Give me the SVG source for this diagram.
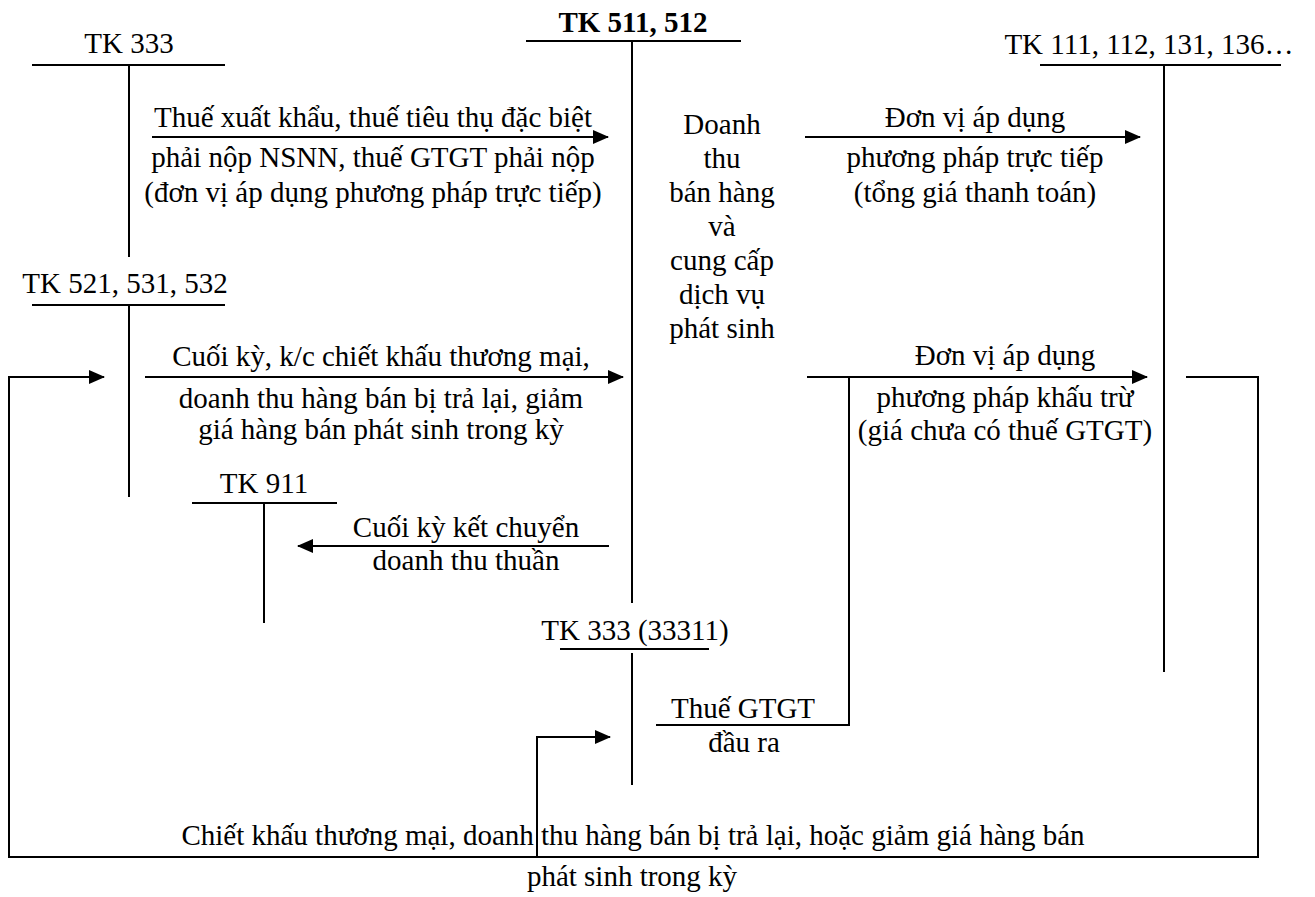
<svg xmlns="http://www.w3.org/2000/svg" width="1315" height="897" viewBox="0 0 1315 897">
<style>
text{font-family:"Liberation Serif","Times New Roman",serif;font-size:29px;fill:#000;text-anchor:middle}
.b{font-weight:bold}
.t{stroke:#000;stroke-width:2;fill:none}
.c{stroke:#000;stroke-width:2;fill:none}
</style>
<defs>
<marker id="ah" markerWidth="16" markerHeight="14" refX="15" refY="7" orient="auto" markerUnits="userSpaceOnUse">
<path d="M0,0 L16,7 L0,14 Z" fill="#000"/>
</marker>
</defs>
<rect width="1315" height="897" fill="#fff"/>
<g id="tk333">
<text x="129" y="53">TK 333</text>
<path class="t" d="M32,65 H225 M129,65 V257"/>
</g>
<g id="tk511">
<text class="b" x="633" y="32">TK 511, 512</text>
<path class="t" d="M526,41 H741 M632,41 V603"/>
<text x="722" y="134">Doanh</text>
<text x="722" y="168">thu</text>
<text x="722" y="202">bán hàng</text>
<text x="722" y="236">và</text>
<text x="722" y="270">cung cấp</text>
<text x="722" y="304">dịch vụ</text>
<text x="722" y="338">phát sinh</text>
</g>
<g id="tk111">
<text x="1149" y="54">TK 111, 112, 131, 136…</text>
<path class="t" d="M1040,65 H1281 M1164,65 V672"/>
</g>
<g id="tk521">
<text x="125" y="293">TK 521, 531, 532</text>
<path class="t" d="M32,305 H225 M129,305 V497"/>
</g>
<g id="tk911">
<text x="264" y="493">TK 911</text>
<path class="t" d="M192,503 H337 M264,503 V623"/>
</g>
<g id="tk33311">
<text x="635" y="640">TK 333 (33311)</text>
<path class="t" d="M560,649 H709 M632,653 V785"/>
</g>
<g id="connectors">
<path class="c" d="M152,137 H608" marker-end="url(#ah)"/>
<path class="c" d="M805,137 H1140" marker-end="url(#ah)"/>
<path class="c" d="M145,377 H623" marker-end="url(#ah)"/>
<path class="c" d="M807,377 H1147" marker-end="url(#ah)"/>
<path class="c" d="M609,546 H298" marker-end="url(#ah)"/>
<path class="c" d="M1186,377 H1258 V857 H9 V377 H104" marker-end="url(#ah)"/>
<path class="c" d="M849,377 V725 H656"/>
<path class="c" d="M537,857 V737 H610" marker-end="url(#ah)"/>
</g>
<g id="labels">
<text x="373" y="127">Thuế xuất khẩu, thuế tiêu thụ đặc biệt</text>
<text x="373" y="167">phải nộp NSNN, thuế GTGT phải nộp</text>
<text x="373" y="202">(đơn vị áp dụng phương pháp trực tiếp)</text>
<text x="975" y="127">Đơn vị áp dụng</text>
<text x="975" y="167">phương pháp trực tiếp</text>
<text x="975" y="202">(tổng giá thanh toán)</text>
<text x="381" y="366">Cuối kỳ, k/c chiết khấu thương mại,</text>
<text x="381" y="408">doanh thu hàng bán bị trả lại, giảm</text>
<text x="381" y="439">giá hàng bán phát sinh trong kỳ</text>
<text x="1005" y="365">Đơn vị áp dụng</text>
<text x="1005" y="407">phương pháp khấu trừ</text>
<text x="1005" y="440">(giá chưa có thuế GTGT)</text>
<text x="466" y="537">Cuối kỳ kết chuyển</text>
<text x="466" y="570">doanh thu thuần</text>
<text x="743" y="718">Thuế GTGT</text>
<text x="744" y="752">đầu ra</text>
<text x="633" y="845">Chiết khấu thương mại, doanh thu hàng bán bị trả lại, hoặc giảm giá hàng bán</text>
<text x="632" y="886">phát sinh trong kỳ</text>
</g>
</svg>
